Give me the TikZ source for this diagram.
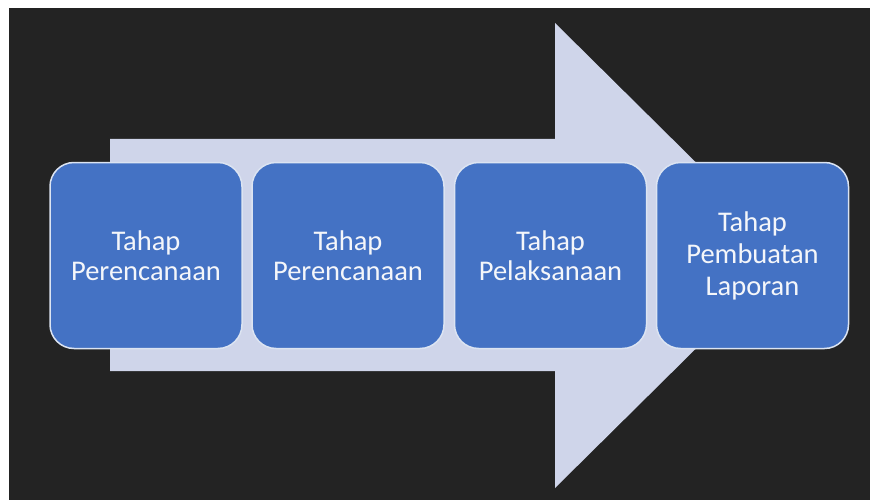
\documentclass[tikz,border=0pt]{standalone}
\usepackage{fontspec}
\setmainfont{Carlito}
\definecolor{bgdark}{HTML}{232323}
\definecolor{arrowfill}{HTML}{CFD5EA}
\definecolor{boxblue}{HTML}{4472C4}
\definecolor{boxedge}{HTML}{DCE4F2}
\definecolor{textwhite}{HTML}{F4F6FA}
\begin{document}
\begin{tikzpicture}[x=1pt,y=-1pt,
  stage/.style={rectangle, rounded corners=24pt, minimum width=192pt, minimum height=186pt,
    fill=boxblue, draw=boxedge, line width=1.5pt, text=textwhite, align=center, inner sep=0pt,
    font=\fontsize{28.5}{30}\selectfont},
  bigarrow/.style={fill=arrowfill}]
\useasboundingbox (0,0) rectangle (870,500);
\fill[white] (0,0) rectangle (870,500);
\fill[bgdark] (9,8) rectangle (870,500);
\fill[bigarrow] (110,139) -- (555,139) -- (555,23) -- (790,255.5) -- (555,488) -- (555,371) -- (110,371) -- cycle;
\node[stage] (s1) at (146,255.5) {Tahap\\Perencanaan};
\node[stage] (s2) at (348,255.5) {Tahap\\Perencanaan};
\node[stage] (s3) at (550.5,255.5) {Tahap\\Pelaksanaan};
\node[stage, font=\fontsize{28.5}{32}\selectfont] (s4) at (752.5,255.5) {Tahap\\Pembuatan\\Laporan};
\end{tikzpicture}
\end{document}
